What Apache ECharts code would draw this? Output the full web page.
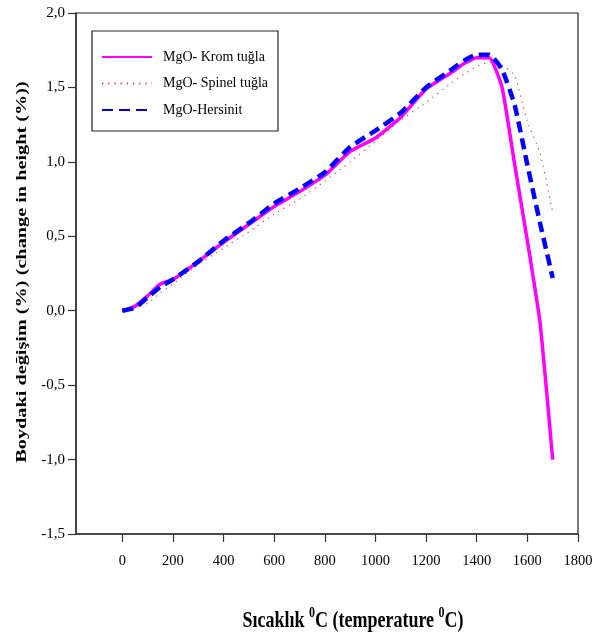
<!DOCTYPE html>
<html>
<head>
<meta charset="utf-8">
<script src="https://cdn.jsdelivr.net/npm/echarts@6/dist/echarts.min.js"></script>
<style>
  html, body { margin: 0; padding: 0; background: #fff; }
  #chart { width: 603px; height: 632px; }
</style>
</head>
<body>
<div id="chart"></div>
<script>
// sıcaklık (°C)
const temps = [0, 50, 100, 150, 200, 300, 400, 500, 600, 700, 800, 900, 1000, 1100, 1200, 1300, 1350, 1400, 1450, 1500, 1550, 1600, 1650, 1700];
// boydaki değişim (%)
const kromTugla = [0, 0.03, 0.10, 0.18, 0.21, 0.33, 0.46, 0.58, 0.70, 0.80, 0.91, 1.07, 1.16, 1.30, 1.49, 1.60, 1.66, 1.70, 1.70, 1.50, 0.98, 0.47, -0.08, -1.0];
const spinelTugla = [0, 0.02, 0.05, 0.12, 0.18, 0.31, 0.42, 0.53, 0.65, 0.75, 0.87, 1.00, 1.14, 1.28, 1.40, 1.53, 1.59, 1.64, 1.67, 1.65, 1.58, 1.27, 1.06, 0.66];
const hersinit = [0, 0.02, 0.09, 0.16, 0.21, 0.33, 0.47, 0.59, 0.72, 0.82, 0.93, 1.10, 1.21, 1.33, 1.50, 1.62, 1.68, 1.72, 1.72, 1.62, 1.38, 0.98, 0.59, 0.22];
const xTicks = [0, 200, 400, 600, 800, 1000, 1200, 1400, 1600, 1800];

const pairs = vals => temps.map((t, i) => [t, vals[i]]);
const font = '"Liberation Serif", "Times New Roman", serif';

const chart = echarts.init(document.getElementById('chart'));

chart.setOption({
  backgroundColor: '#fff',
  animation: false,
  grid: {
    left: 76, right: 25, top: 13, bottom: 98,
    show: true, borderColor: '#222', borderWidth: 1.2
  },
  legend: {
    orient: 'vertical',
    left: 92, top: 31,
    padding: [19, 10, 14, 9],
    itemGap: 12.5,
    itemWidth: 50,
    itemHeight: 14,
    itemStyle: { opacity: 0 },
    backgroundColor: '#fff',
    borderColor: '#222',
    borderWidth: 1.2,
    textStyle: { fontFamily: font, fontSize: 14, color: '#000', padding: [0, 0, 0, 6] },
    data: ['MgO- Krom tuğla', 'MgO- Spinel tuğla', 'MgO-Hersinit']
  },
  xAxis: {
    type: 'value',
    min: -183, max: 1800,
    splitLine: { show: false },
    axisLine: { onZero: false, lineStyle: { color: '#333', width: 1.5 } },
    axisTick: { customValues: xTicks, length: 8, lineStyle: { color: '#333', width: 1.2 } },
    axisLabel: {
      customValues: xTicks, margin: 20, fontFamily: font, fontSize: 14.5, color: '#000',
      formatter: v => String(v)
    }
  },
  yAxis: {
    type: 'value',
    min: -1.5, max: 2, interval: 0.5,
    splitLine: { show: false },
    axisLine: { show: true, onZero: false, lineStyle: { color: '#333', width: 1.5 } },
    axisTick: { show: true, length: 8, lineStyle: { color: '#333', width: 1.2 } },
    axisLabel: {
      margin: 11, fontFamily: font, fontSize: 15, color: '#000',
      formatter: v => v.toFixed(1).replace('.', ',')
    }
  },
  // eksen başlıkları (resimde dikey olarak uzatılmış)
  graphic: [
    {
      type: 'text',
      x: 22, y: 272,
      rotation: Math.PI / 2,
      scaleX: 1.35,
      style: {
        text: 'Boydaki değişim (%) (change in height (%))',
        font: 'bold 15px ' + font,
        fill: '#000',
        align: 'center',
        verticalAlign: 'middle'
      }
    },
    {
      type: 'text',
      x: 353, y: 619,
      scaleY: 1.25,
      style: {
        text: '{n|Sıcaklık }{s|0}{n|C (temperature }{s|0}{n|C)}',
        align: 'center',
        verticalAlign: 'middle',
        rich: {
          n: { font: 'bold 18px ' + font, fill: '#000', lineHeight: 22, verticalAlign: 'bottom' },
          s: { font: 'bold 12px ' + font, fill: '#000', lineHeight: 10, verticalAlign: 'top' }
        }
      }
    }
  ],
  series: [
    {
      name: 'MgO- Krom tuğla',
      type: 'line',
      data: pairs(kromTugla),
      smooth: 0.15,
      symbol: 'none',
      lineStyle: { color: '#FF00FF', width: 3.5 },
      itemStyle: { color: '#FF00FF' },
      z: 2
    },
    {
      name: 'MgO- Spinel tuğla',
      type: 'line',
      data: pairs(spinelTugla),
      smooth: 0.15,
      symbol: 'none',
      lineStyle: { color: '#FF3333', width: 1.2, type: [1.2, 5] },
      itemStyle: { color: '#FF3333' },
      z: 1
    },
    {
      name: 'MgO-Hersinit',
      type: 'line',
      data: pairs(hersinit),
      smooth: 0.15,
      symbol: 'none',
      lineStyle: { color: '#0000FF', width: 4.5, type: [11, 6] },
      itemStyle: { color: '#0000FF' },
      z: 3
    }
  ]
});
</script>
</body>
</html>
